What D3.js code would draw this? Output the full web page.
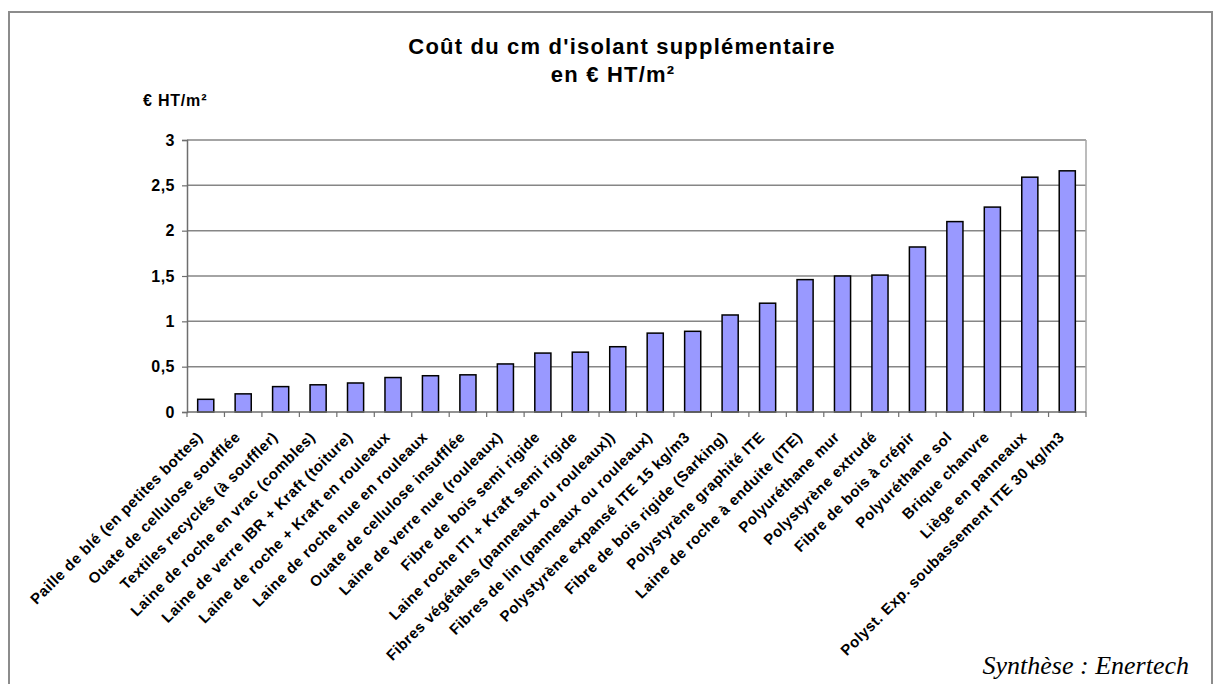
<!DOCTYPE html>
<head>
    <meta charset="utf-8">
    <title>Coût du cm d'isolant supplémentaire</title>
    <style>
        html, body {
            margin: 0;
            background: #fff;
        }

        svg text {
            font-family: "Liberation Sans", Arial, sans-serif;
            font-weight: bold;
            fill: #000;
        }

        .grid line {
            stroke: #868686;
            stroke-width: 1.5px;
        }

        .bar {
            fill: #9999ff;
            stroke: #000;
            stroke-width: 1.5px;
        }
    </style>
</head>
<body>
<script src="https://cdn.jsdelivr.net/npm/d3@7"></script>
<script>

    const materials = [
        "Paille de blé (en petites bottes)",
        "Ouate de cellulose soufflée",
        "Textiles recyclés (à souffler)",
        "Laine de roche en vrac (combles)",
        "Laine de verre IBR + Kraft (toiture)",
        "Laine de roche + Kraft en rouleaux",
        "Laine de roche nue en rouleaux",
        "Ouate de cellulose insufflée",
        "Laine de verre nue (rouleaux)",
        "Fibre de bois semi rigide",
        "Laine roche ITI + Kraft semi rigide",
        "Fibres végétales (panneaux ou rouleaux))",
        "Fibres de lin (panneaux ou rouleaux)",
        "Polystyrène expansé ITE 15 kg/m3",
        "Fibre de bois rigide (Sarking)",
        "Polystyrène graphité ITE",
        "Laine de roche à enduite (ITE)",
        "Polyuréthane mur",
        "Polystyrène extrudé",
        "Fibre de bois à crépir",
        "Polyuréthane sol",
        "Brique chanvre",
        "Liège en panneaux",
        "Polyst. Exp. soubassement ITE 30 kg/m3"
    ];

    const costs = [0.14, 0.20, 0.28, 0.30, 0.32, 0.38, 0.40, 0.41, 0.53, 0.65, 0.66, 0.72,
        0.87, 0.89, 1.07, 1.20, 1.46, 1.50, 1.51, 1.82, 2.10, 2.26, 2.59, 2.66];

    const yTicks = [0, 0.5, 1, 1.5, 2, 2.5, 3];

    const W = 1218, H = 684;
    const margin = {top: 140, right: 132, bottom: 272, left: 187};
    const innerW = W - margin.left - margin.right,
        innerH = H - margin.top - margin.bottom;

    const svg = d3.select("body").append("svg")
        .attr("width", W)
        .attr("height", H);

    // cadre extérieur
    svg.append("rect")
        .attr("x", 9).attr("y", 12)
        .attr("width", 1203).attr("height", 700)
        .attr("fill", "none")
        .attr("stroke", "#8c8c8c")
        .attr("stroke-width", 2);

    svg.append("text")
        .attr("x", 622).attr("y", 54)
        .attr("text-anchor", "middle")
        .style("font-size", "22px")
        .style("letter-spacing", "1.2px")
        .text("Coût du cm d'isolant supplémentaire");

    svg.append("text")
        .attr("x", 613).attr("y", 82)
        .attr("text-anchor", "middle")
        .style("font-size", "22px")
        .style("letter-spacing", "1.2px")
        .text("en € HT/m²");

    svg.append("text")
        .attr("x", 143).attr("y", 106)
        .style("font-size", "16px")
        .style("letter-spacing", "0.8px")
        .text("€ HT/m²");

    svg.append("text")
        .attr("x", 1189).attr("y", 674)
        .attr("text-anchor", "end")
        .style("font-family", "'Liberation Serif', 'Times New Roman', serif")
        .style("font-weight", "normal")
        .style("font-style", "italic")
        .style("font-size", "26px")
        .text("Synthèse : Enertech");

    const g = svg.append("g")
        .attr("transform", `translate(${margin.left},${margin.top})`);

    const x = d3.scaleBand()
        .domain(materials)
        .range([0, innerW])
        .paddingInner(0.57)
        .paddingOuter(0.285);

    const y = d3.scaleLinear()
        .domain([0, 3])
        .range([innerH, 0]);

    // quadrillage
    g.append("g")
        .attr("class", "grid")
        .selectAll("line")
        .data(yTicks.filter(d => d > 0))
        .enter().append("line")
        .attr("x1", 0).attr("x2", innerW)
        .attr("y1", d => y(d)).attr("y2", d => y(d));

    g.append("line")
        .attr("x1", innerW).attr("x2", innerW)
        .attr("y1", 0).attr("y2", innerH)
        .attr("stroke", "#a6a6a6")
        .attr("stroke-width", 1.5);

    g.selectAll(".bar")
        .data(costs)
        .enter().append("rect")
        .attr("class", "bar")
        .attr("x", (d, i) => x(materials[i]))
        .attr("y", d => y(d))
        .attr("width", x.bandwidth())
        .attr("height", d => innerH - y(d));

    // axe Y
    const yAxis = g.append("g")
        .call(d3.axisLeft(y)
            .tickValues(yTicks)
            .tickSize(5)
            .tickPadding(7)
            .tickFormat(d => String(d).replace(".", ",")));
    yAxis.select(".domain").attr("stroke", "#6e6e6e").attr("stroke-width", 1.5);
    yAxis.selectAll(".tick line").attr("stroke", "#6e6e6e").attr("stroke-width", 1.2);
    yAxis.selectAll(".tick text")
        .style("font-size", "16px")
        .style("letter-spacing", "0.5px")
        .attr("font-family", null);

    // axe X : graduations entre les catégories
    const step = x.step();
    const xAxis = g.append("g")
        .attr("transform", `translate(0,${innerH})`);
    xAxis.append("line")
        .attr("x1", 0).attr("x2", innerW)
        .attr("stroke", "#6e6e6e")
        .attr("stroke-width", 1.5);
    xAxis.selectAll(".xtick")
        .data(d3.range(materials.length + 1))
        .enter().append("line")
        .attr("class", "xtick")
        .attr("x1", i => i * step).attr("x2", i => i * step)
        .attr("y1", 0).attr("y2", 5)
        .attr("stroke", "#6e6e6e")
        .attr("stroke-width", 1.2);

    xAxis.selectAll(".xlabel")
        .data(materials)
        .enter().append("text")
        .attr("class", "xlabel")
        .attr("text-anchor", "end")
        .attr("transform", d => `translate(${x(d) + x.bandwidth() / 2 - 2},${26}) rotate(-45)`)
        .style("font-size", "15px")
        .style("letter-spacing", "0.5px")
        .text(d => d);

</script>
</body>
